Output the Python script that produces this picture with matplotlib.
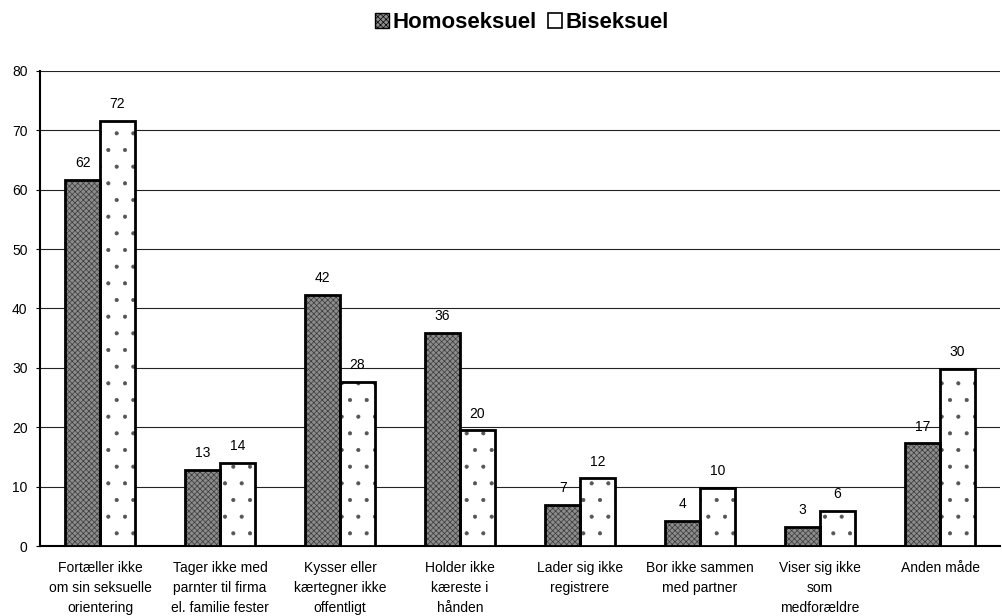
import numpy as np
import matplotlib.pyplot as plt
from matplotlib.patches import Patch

plt.rcParams['font.family'] = ['Liberation Sans', 'DejaVu Sans']
plt.rcParams['hatch.linewidth'] = 0.5

categories = ["Fortæller ikke\nom sin seksuelle\norientering",
              "Tager ikke med\nparnter til firma\nel. familie fester",
              "Kysser eller\nkærtegner ikke\noffentligt",
              "Holder ikke\nkæreste i\nhånden",
              "Lader sig ikke\nregistrere",
              "Bor ikke sammen\nmed partner",
              "Viser sig ikke\nsom\nmedforældre",
              "Anden måde"]
homo = [61.7, 12.8, 42.3, 35.9, 6.9, 4.2, 3.2, 17.3]
bi = [71.6, 14.0, 27.6, 19.5, 11.4, 9.8, 5.9, 29.8]
homo_labels = [62, 13, 42, 36, 7, 4, 3, 17]
bi_labels = [72, 14, 28, 20, 12, 10, 6, 30]

fig = plt.figure(figsize=(10.02, 6.16), dpi=100)
ax = fig.add_axes([0.04, 0.1136, 0.958, 0.7712])

x = np.arange(len(categories))
w = 0.29

# hatch fill first, then outline on top
ax.bar(x - w/2, homo, w, color='#8c8c8c', edgecolor='#3a3a3a', hatch='xxxxxx',
       linewidth=0, zorder=3)
ax.bar(x + w/2, bi, w, color='white', edgecolor='#555555', hatch='.',
       linewidth=0, zorder=3)
ax.bar(x - w/2, homo, w, fill=False, edgecolor='black', linewidth=2, zorder=4)
ax.bar(x + w/2, bi, w, fill=False, edgecolor='black', linewidth=2, zorder=4)

for i in range(len(x)):
    ax.annotate(str(homo_labels[i]), (x[i] - w/2, homo[i]), xytext=(0, 7),
                textcoords='offset points', ha='center', va='bottom', fontsize=10)
    ax.annotate(str(bi_labels[i]), (x[i] + w/2, bi[i]), xytext=(0, 7),
                textcoords='offset points', ha='center', va='bottom', fontsize=10)

ax.set_xlim(-0.5, len(x) - 0.5)
ax.set_ylim(0, 80)
ax.set_yticks(range(0, 81, 10))
ax.yaxis.grid(True, color='#222222', linewidth=0.8)
ax.set_axisbelow(True)
ax.set_xticks(x)
ax.set_xticklabels(categories, fontsize=10, linespacing=1.55)
ax.tick_params(axis='x', length=0, pad=11)
ax.tick_params(axis='y', length=3, labelsize=10, pad=6)
ax.spines['top'].set_visible(False)
ax.spines['right'].set_visible(False)
ax.spines['left'].set_linewidth(1.5)
ax.spines['bottom'].set_linewidth(1.5)

handles = [Patch(facecolor='#8c8c8c', edgecolor='black', hatch='xxxxxx', linewidth=1),
           Patch(facecolor='white', edgecolor='black', linewidth=1.2)]
fig.legend(handles, ['Homoseksuel', 'Biseksuel'], loc='center', bbox_to_anchor=(0.521, 0.963),
           ncol=2, frameon=False, prop={'weight': 'bold', 'size': 16},
           handlelength=0.65, handleheight=0.65, handletextpad=0.15, columnspacing=0.5)

fig.savefig('out.png', dpi=100)
